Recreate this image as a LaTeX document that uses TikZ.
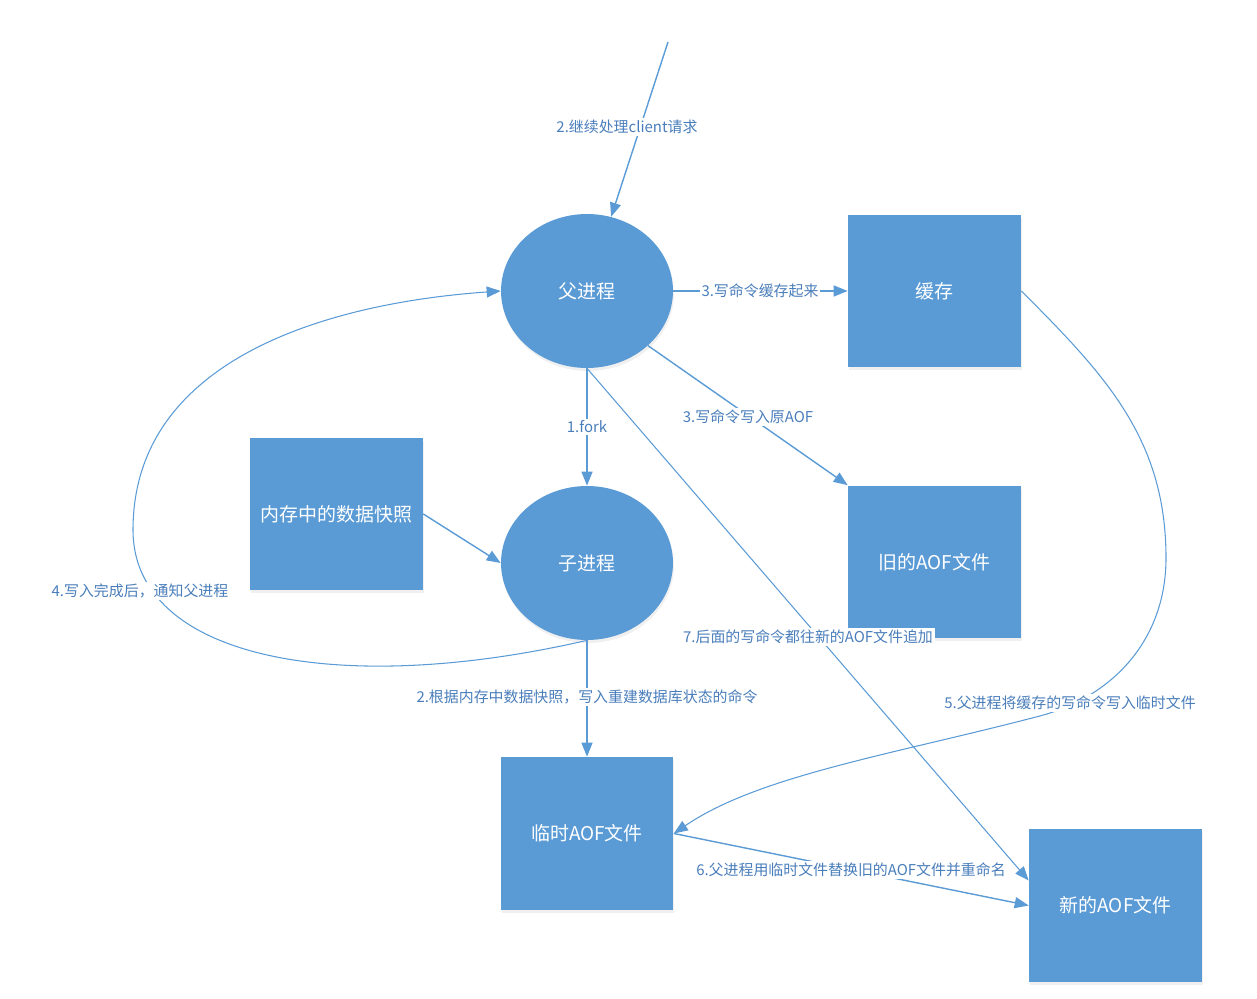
\documentclass[tikz,border=0pt]{standalone}
\usepackage{fontspec}
\setmainfont{Noto Sans CJK SC}
\usetikzlibrary{arrows.meta,shapes.geometric,shadows}

\definecolor{procblue}{HTML}{5B9BD5}
\definecolor{lblblue}{HTML}{4A7EBB}

\tikzset{
	proc/.style={ellipse, fill=procblue, text=white, minimum width=3.44cm, minimum height=3.08cm, inner sep=0pt, font=\fontsize{10.8}{13}\selectfont, drop shadow={opacity=0.12, shadow xshift=0.02cm, shadow yshift=-0.06cm}},
	filebox/.style={rectangle, fill=procblue, text=white, minimum width=3.46cm, minimum height=3.06cm, inner sep=0pt, font=\fontsize{10.8}{13}\selectfont, drop shadow={opacity=0.12, shadow xshift=0.02cm, shadow yshift=-0.06cm}},
	flow/.style={draw=procblue, line width=0.8pt, -{Triangle[length=0.28cm,width=0.22cm]}},
	thinflow/.style={draw=procblue, line width=0.6pt, -{Triangle[length=0.28cm,width=0.22cm]}},
	lbl/.style={fill=white, text=lblblue, inner sep=1pt, font=\fontsize{8.5}{10}\selectfont}
}

\begin{document}
\begin{tikzpicture}[x=0.02cm, y=0.02cm]

	\useasboundingbox (0,0) rectangle (1257,998);

	% processes and files
	\node [proc] (parent) at (587,707) {父进程};
	\node [proc] (child) at (587,435) {子进程};

	\node [filebox] (cache) at (934.5,707) {缓存};
	\node [filebox] (snap) at (336.5,484) {内存中的数据快照};
	\node [filebox] (oldaof) at (934.5,436) {旧的AOF文件};
	\node [filebox] (tmpaof) at (587,164.5) {临时AOF文件};
	\node [filebox] (newaof) at (1115.5,92.5) {新的AOF文件};

	\coordinate (client) at (668,956);

	% connectors
	\draw [flow] (client) -- (parent);
	\draw [flow] (parent.east) -- (cache.west);
	\draw [flow] (parent.south east) -- (oldaof.north west);
	\draw [flow] (parent.south) -- (child.north);
	\draw [flow] (snap.east) -- (child.west);
	\draw [flow] (child.south) -- (tmpaof.north);
	\draw [flow] (tmpaof.east) -- (newaof.west);
	\draw [thinflow] (parent.south) -- ([yshift=0.5cm]newaof.west);

	\draw [thinflow] (child.south) .. controls (337,300) and (133,340) .. (133,468)
		.. controls (133,640) and (330,695) .. (parent.west);

	\draw [thinflow] (cache.east) to [out=-45,in=90] (1166,440)
		to [out=-90,in=14] (1036,281) .. controls (890,243) and (758,222) .. (tmpaof.east);

	% labels
	\node [lbl] (l-client) at (627,871) {2.继续处理client请求};
	\node [lbl] (l-cache) at (760,707) {3.写命令缓存起来};
	\node [lbl] (l-old) at (748,581) {3.写命令写入原AOF};
	\node [lbl] (l-fork) at (587,571) {1.fork};
	\node [lbl] (l-rebuild) at (587,301) {2.根据内存中数据快照，写入重建数据库状态的命令};
	\node [lbl] (l-notify) at (140,407) {4.写入完成后，通知父进程};
	\node [lbl] (l-append) at (808,361) {7.后面的写命令都往新的AOF文件追加};
	\node [lbl] (l-flush) at (1070,295) {5.父进程将缓存的写命令写入临时文件};
	\node [lbl] (l-rename) at (851,128) {6.父进程用临时文件替换旧的AOF文件并重命名};

\end{tikzpicture}
\end{document}
